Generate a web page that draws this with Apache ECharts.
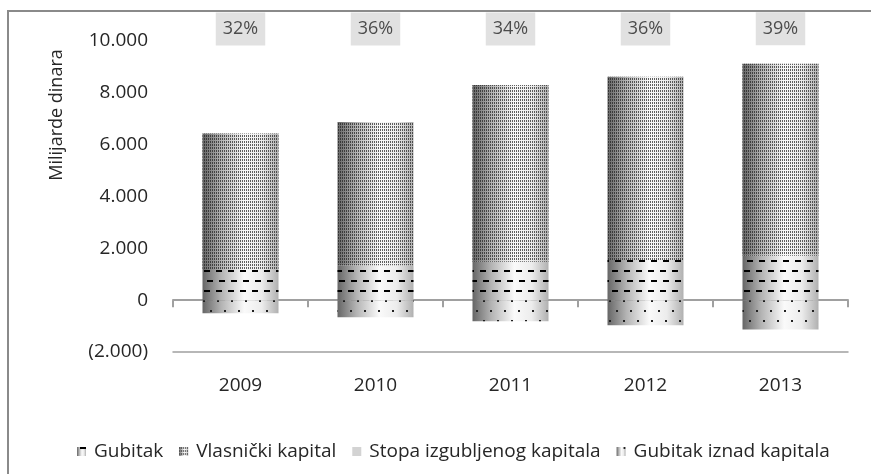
<!DOCTYPE html>
<html><head><meta charset="utf-8">
<script src="https://cdn.jsdelivr.net/npm/echarts@6/dist/echarts.min.js"></script>
<style>html,body{margin:0;padding:0;background:#fff}#c{width:871px;height:474px}</style>
</head><body><div id="c"></div>
<script>
var years = ['2009','2010','2011','2012','2013'];
var gubitak = [1200, 1350, 1480, 1550, 1710];
var vlasnickiTotal = [6430, 6870, 8300, 8620, 9120];
var gubitakIznad = [-500, -660, -810, -970, -1130];
var stopa = [32, 36, 34, 36, 39];
var yTicks = [-2000, 0, 2000, 4000, 6000, 8000, 10000];
var vlasnicki = vlasnickiTotal.map(function(t, i){ return t - gubitak[i]; });

var FONT = 'Open Sans';
var TXT = '#262626';
var grad = { type:'linear', x:0, y:0, x2:1, y2:0, colorStops:[
  {offset:0, color:'#666666'}, {offset:0.25, color:'#b4b4b4'}, {offset:0.55, color:'#fafafa'},
  {offset:0.78, color:'#ececec'}, {offset:1, color:'#b0b0b0'}]};

var chart = echarts.init(document.getElementById('c'), null, {renderer:'canvas'});
chart.setOption({
  animation:false,
  textStyle:{fontFamily:FONT},
  graphic:[
    {type:'rect', shape:{x:8, y:11, width:900, height:500}, style:{fill:'none', stroke:'#8a8a8a', lineWidth:2}, z:-10},
    {type:'text', x:57, y:115, rotation:Math.PI/2, style:{text:'Milijarde dinara', font:'18px "' + FONT + '"', fill:TXT, align:'center', verticalAlign:'middle'}}
  ],
  legend:{
    left:72, top:437, itemWidth:9, itemHeight:9, itemGap:16, icon:'rect',
    textStyle:{fontSize:19, color:TXT, fontFamily:FONT, padding:[0,0,0,3]},
    data:['Gubitak','Vlasnički kapital','Stopa izgubljenog kapitala','Gubitak iznad kapitala']
  },
  grid:[
    {left:173, right:23, top:41, bottom:122},
    {left:173, right:23, top:12, height:34}
  ],
  xAxis:[
    {type:'category', data:years, gridIndex:0, position:'bottom',
     axisLine:{onZero:false, lineStyle:{color:'#a0a0a0', width:1.5}}, axisTick:{show:false},
     axisLabel:{fontSize:19, color:TXT, margin:24, fontFamily:FONT}},
    {type:'category', data:years, gridIndex:0, position:'bottom',
     axisLine:{onZero:true, lineStyle:{color:'#a0a0a0', width:2}},
     axisTick:{show:true, length:7, lineStyle:{color:'#a0a0a0', width:2}},
     axisLabel:{show:false}},
    {type:'category', data:years, gridIndex:1, show:false}
  ],
  yAxis:[
    {type:'value', gridIndex:0, min:-2000, max:10000, interval:2000,
     axisLine:{show:false}, axisTick:{show:false}, splitLine:{show:false},
     axisLabel:{fontSize:19, color:TXT, margin:25, fontFamily:FONT,
       formatter:function(v){ var s = Math.abs(v).toString().replace(/\B(?=(\d{3})+(?!\d))/g, '.'); return v < 0 ? '(' + s + ')' : s; }}},
    {type:'value', gridIndex:1, min:-5000, max:5000, show:false}
  ],
  series:[
    {name:'Gubitak', type:'bar', stack:'a', xAxisIndex:1, yAxisIndex:0, barWidth:76, data:gubitak,
     itemStyle:{color:grad, decal:{symbol:'rect', symbolSize:1, color:'#000', dashArrayX:[[6,6],[0,3,6,3]], dashArrayY:[2,8]}}},
    {name:'Vlasnički kapital', type:'bar', stack:'a', xAxisIndex:1, yAxisIndex:0, barWidth:76, data:vlasnicki,
     itemStyle:{color:grad, decal:{symbol:'rect', symbolSize:1, color:'rgba(30,30,30,0.7)', dashArrayX:[1,1], dashArrayY:[2,1]}}},
    {name:'Gubitak iznad kapitala', type:'bar', stack:'a', xAxisIndex:1, yAxisIndex:0, barWidth:76, data:gubitakIznad,
     itemStyle:{color:grad, decal:{symbol:'rect', symbolSize:1, color:'#222', dashArrayX:[[2,12],[0,7,2,5]], dashArrayY:[2,8]}}},
    {name:'Stopa izgubljenog kapitala', type:'scatter', xAxisIndex:2, yAxisIndex:1, data:stopa,
     symbol:'rect', symbolSize:0.01, itemStyle:{color:'#c8c8c8'},
     label:{show:true, position:'inside', formatter:'{c}%', fontSize:18, color:TXT, fontFamily:FONT,
       backgroundColor:'#d9d9d9', padding:[6,7,6,7], lineHeight:21}}
  ]
});
</script></body></html>
